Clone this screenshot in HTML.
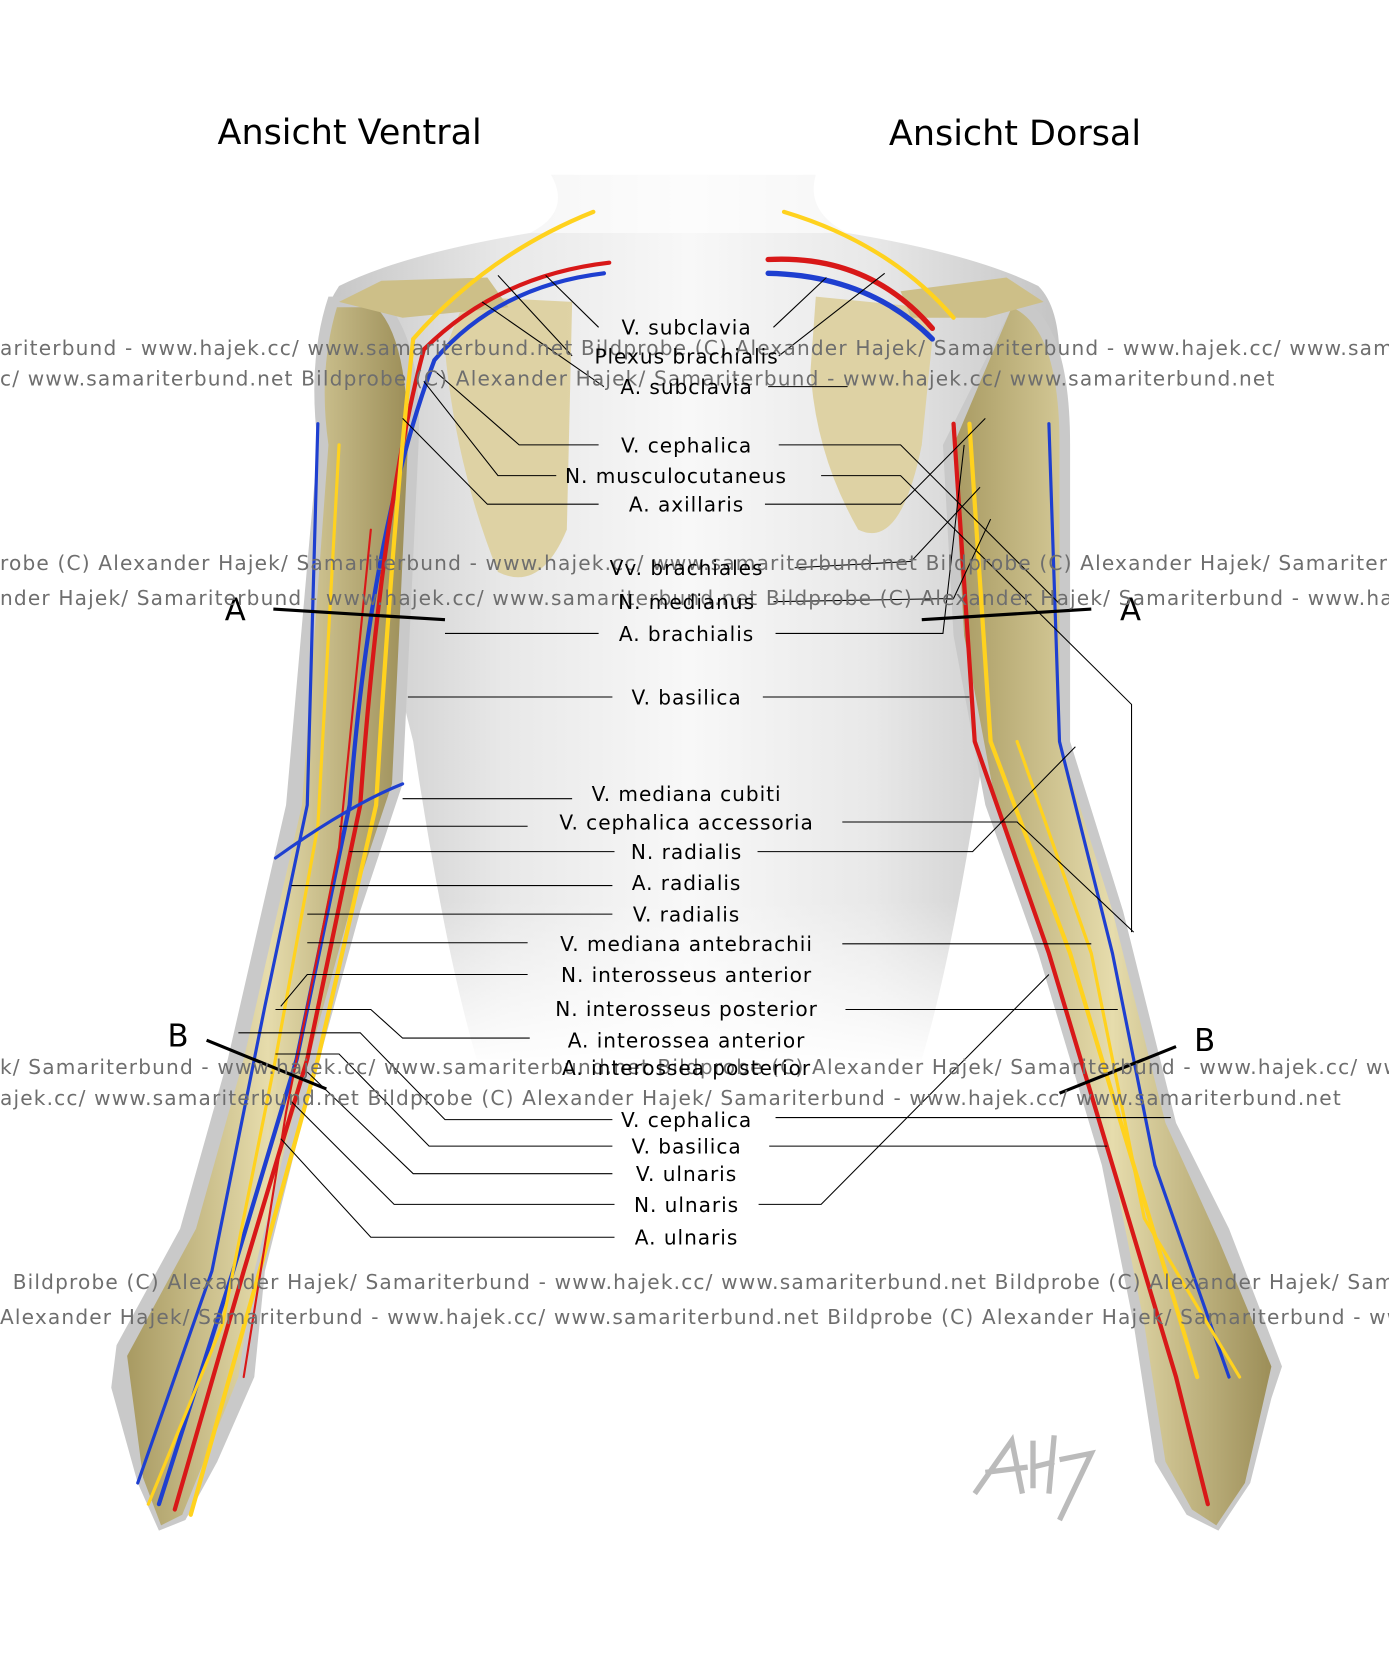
<!DOCTYPE html>
<html><head><meta charset="utf-8"><style>
html,body{margin:0;padding:0;background:#fff;width:1389px;height:1662px;overflow:hidden}
svg{display:block}
.l{font-family:"DejaVu Sans","Liberation Sans",sans-serif;font-size:19px;letter-spacing:0.9px;fill:#000;text-anchor:middle}
.w{font-family:"DejaVu Sans","Liberation Sans",sans-serif;font-size:19px;letter-spacing:1.1px;fill:#6e6e6e;white-space:pre}
.t{font-family:"DejaVu Sans","Liberation Sans",sans-serif;font-size:33px;fill:#000;text-anchor:middle}
.ln{stroke:#000;stroke-width:1;fill:none}
</style></head><body>
<svg width="1389" height="1662" viewBox="0 0 1311 1569" preserveAspectRatio="none">
<defs>
<linearGradient id="tor" x1="0" x2="1"><stop offset="0" stop-color="#c4c4c4"/><stop offset=".25" stop-color="#e8e8e8"/><stop offset=".5" stop-color="#f8f8f8"/><stop offset=".75" stop-color="#e8e8e8"/><stop offset="1" stop-color="#c4c4c4"/></linearGradient>
<linearGradient id="bone" x1="0" x2="1"><stop offset="0" stop-color="#a89a62"/><stop offset=".5" stop-color="#e6dcac"/><stop offset="1" stop-color="#9c8e58"/></linearGradient>
<linearGradient id="fade" x1="0" x2="0" y1="0" y2="1"><stop offset="0" stop-color="#fff" stop-opacity="0"/><stop offset="1" stop-color="#fff" stop-opacity="1"/></linearGradient>
</defs>
<rect width="1311" height="1569" fill="#fff"/>
<path d="M520,165 Q540,200 500,220 Q380,240 320,270 Q300,300 300,340 L390,700 Q420,900 450,1000 L870,1000 Q900,900 930,700 L1000,340 Q1000,290 980,270 Q920,240 800,220 Q760,200 770,165 Z" fill="url(#tor)"/>
<rect x="440" y="160" width="430" height="60" fill="#fff" opacity=".6"/>
<rect x="380" y="850" width="560" height="160" fill="url(#fade)"/>
<path d="M310,280 Q290,340 300,420 L270,760 L215,1000 L170,1160 L110,1270 L105,1310 L130,1400 L150,1445 L175,1435 L205,1380 L240,1300 L250,1200 L285,1060 L340,860 L380,740 L395,420 Q400,320 360,280 Z" fill="#c9c9c9"/>
<path d="M318,290 Q300,350 310,420 L285,760 L230,1000 L185,1160 L120,1280 L135,1395 L152,1440 L172,1430 L225,1300 L240,1200 L275,1060 L330,860 L370,740 L385,420 Q385,320 355,290 Z" fill="url(#bone)"/>
<path d="M960,280 Q1010,300 1010,420 L1010,700 L1060,860 L1110,1060 L1160,1160 L1210,1290 L1200,1320 L1180,1400 L1150,1445 L1120,1430 L1090,1380 L1070,1250 L1040,1100 L980,900 L930,760 L900,600 L890,420 Z" fill="#c9c9c9"/>
<path d="M955,290 Q1000,310 1000,420 L1000,700 L1050,860 L1100,1060 L1150,1170 L1200,1290 L1175,1400 L1148,1440 L1125,1425 L1100,1380 L1080,1250 L1050,1100 L990,900 L940,760 L910,600 L900,420 Z" fill="url(#bone)"/>
<path d="M440,280 L540,285 L535,500 Q510,560 470,540 Q430,440 420,330 Z" fill="#ddd1a0" opacity=".95"/>
<path d="M320,285 L360,265 L460,262 L480,290 L380,300 Z" fill="#cdbf88"/>
<path d="M770,280 L870,290 L880,320 L870,420 Q850,520 810,500 Q770,430 765,350 Z" fill="#ddd1a0" opacity=".95"/>
<path d="M850,275 L950,262 L985,285 L930,300 L860,300 Z" fill="#cdbf88"/>
<g fill="none" stroke-width="4" stroke-linecap="round">
<path d="M570,258 Q470,270 410,340 Q350,500 330,760 L280,1000 L220,1200 L150,1420" stroke="#1e3fd0"/>
<path d="M575,248 Q470,260 400,330 Q360,480 340,760 L290,1000 L230,1200 L165,1425" stroke="#d81818"/>
<path d="M560,200 Q460,240 390,320 Q370,500 355,760 L300,1000 L245,1200 L180,1430" stroke="#ffd21e"/>
<path d="M300,400 L290,760 L250,950 L200,1200 L130,1400" stroke="#1e3fd0" stroke-width="3"/>
<path d="M320,420 L300,780 L260,1000 L210,1250 L140,1420" stroke="#ffd21e" stroke-width="3"/>
<path d="M350,500 L320,800 L270,1050 L230,1300" stroke="#d81818" stroke-width="2"/>
<path d="M380,740 Q330,760 260,810" stroke="#1e3fd0" stroke-width="3"/>
<path d="M725,258 Q820,260 880,320" stroke="#1e3fd0" stroke-width="5"/>
<path d="M725,245 Q820,240 880,310" stroke="#d81818" stroke-width="5"/>
<path d="M740,200 Q840,230 900,300" stroke="#ffd21e"/>
<path d="M900,400 L920,700 L990,900 L1050,1100 L1110,1300 L1140,1420" stroke="#d81818"/>
<path d="M915,400 L935,700 L1010,900 L1070,1100 L1130,1300" stroke="#ffd21e"/>
<path d="M990,400 L1000,700 L1050,900 L1090,1100 L1160,1300" stroke="#1e3fd0" stroke-width="3"/>
<path d="M960,700 L1030,900 L1080,1150 L1170,1300" stroke="#ffd21e" stroke-width="3"/>
</g>
<g stroke="#000" stroke-width="3">
<line x1="258" y1="575" x2="420" y2="585"/><line x1="870" y1="585" x2="1030" y2="575"/>
<line x1="195" y1="982" x2="308" y2="1028"/><line x1="1000" y1="1032" x2="1110" y2="988"/>
</g>
<text class="t" x="222" y="586" style="font-size:29px">A</text><text class="t" x="1067" y="586" style="font-size:29px">A</text>
<text class="t" x="168" y="988" style="font-size:29px">B</text><text class="t" x="1137" y="992" style="font-size:29px">B</text>
<g class="ln">
<path d="M565,309 L515,260"/><path d="M730,309 L780,262"/>
<path d="M540,336 L470,260"/><path d="M735,336 L835,258"/>
<path d="M570,365 L455,285"/><path d="M725,365 L800,365"/>
<path d="M565,420 L490,420 L410,350"/><path d="M735,420 L850,420 L1000,570"/>
<path d="M525,449 L470,449 L400,360"/><path d="M775,449 L850,449 L1068,665 L1068,880"/>
<path d="M565,476 L460,476 L380,395"/><path d="M722,476 L850,476 L930,395"/>
<path d="M750,536 L860,530 L925,460"/><path d="M730,568 L900,565 L935,490"/>
<path d="M565,598 L420,598"/><path d="M732,598 L890,598 L910,420"/>
<path d="M578,658 L385,658"/><path d="M720,658 L915,658"/>
<path d="M540,754 L380,754"/><path d="M498,780 L320,780"/><path d="M795,776 L960,776 L1070,880"/>
<path d="M580,804 L330,804"/><path d="M715,804 L918,804 L1015,705"/>
<path d="M578,836 L275,836"/><path d="M578,863 L290,863"/>
<path d="M498,890 L290,890"/><path d="M795,891 L1030,891"/>
<path d="M498,920 L290,920 L265,950"/>
<path d="M798,953 L1055,953"/>
<path d="M500,980 L380,980 L350,953 L260,953"/>
<path d="M578,1057 L420,1057 L340,975 L225,975"/><path d="M732,1055 L1105,1055"/>
<path d="M578,1082 L405,1082 L320,995 L260,995"/><path d="M726,1082 L1045,1082"/>
<path d="M578,1108 L390,1108 L290,1012"/>
<path d="M580,1137 L372,1137 L275,1040"/><path d="M716,1137 L775,1137 L990,920"/>
<path d="M580,1168 L350,1168 L265,1075"/>
</g>
<g class="w">
<text x="0" y="335">ariterbund - www.hajek.cc/ www.samariterbund.net  Bildprobe (C) Alexander Hajek/ Samariterbund - www.hajek.cc/ www.samariterbund.net</text>
<text x="0" y="364">c/ www.samariterbund.net  Bildprobe (C) Alexander Hajek/ Samariterbund - www.hajek.cc/ www.samariterbund.net</text>
<text x="0" y="538">robe (C) Alexander Hajek/ Samariterbund - www.hajek.cc/ www.samariterbund.net  Bildprobe (C) Alexander Hajek/ Samariterbund</text>
<text x="0" y="571">nder Hajek/ Samariterbund - www.hajek.cc/ www.samariterbund.net  Bildprobe (C) Alexander Hajek/ Samariterbund - www.hajek.cc</text>
<text x="0" y="1014">k/ Samariterbund - www.hajek.cc/ www.samariterbund.net  Bildprobe (C) Alexander Hajek/ Samariterbund - www.hajek.cc/ www</text>
<text x="0" y="1043">ajek.cc/ www.samariterbund.net  Bildprobe (C) Alexander Hajek/ Samariterbund - www.hajek.cc/ www.samariterbund.net</text>
<text x="12" y="1217">Bildprobe (C) Alexander Hajek/ Samariterbund - www.hajek.cc/ www.samariterbund.net  Bildprobe (C) Alexander Hajek/ Samariterbund</text>
<text x="0" y="1250"> Alexander Hajek/ Samariterbund - www.hajek.cc/ www.samariterbund.net  Bildprobe (C) Alexander Hajek/ Samariterbund - www</text>
</g>
<g class="l">
<text x="648" y="316">V. subclavia</text>
<text x="648" y="343">Plexus brachialis</text>
<text x="648" y="372">A. subclavia</text>
<text x="648" y="427">V. cephalica</text>
<text x="638" y="456">N. musculocutaneus</text>
<text x="648" y="483">A. axillaris</text>
<text x="648" y="543">Vv. brachiales</text>
<text x="648" y="575">N. medianus</text>
<text x="648" y="605">A. brachialis</text>
<text x="648" y="665">V. basilica</text>
<text x="648" y="756">V. mediana cubiti</text>
<text x="648" y="783">V. cephalica accessoria</text>
<text x="648" y="811">N. radialis</text>
<text x="648" y="840">A. radialis</text>
<text x="648" y="870">V. radialis</text>
<text x="648" y="898">V. mediana antebrachii</text>
<text x="648" y="927">N. interosseus anterior</text>
<text x="648" y="959">N. interosseus posterior</text>
<text x="648" y="989">A. interossea anterior</text>
<text x="648" y="1015">A. interossea posterior</text>
<text x="648" y="1064">V. cephalica</text>
<text x="648" y="1089">V. basilica</text>
<text x="648" y="1115">V. ulnaris</text>
<text x="648" y="1144">N. ulnaris</text>
<text x="648" y="1175">A. ulnaris</text>
</g>
<text class="t" x="330" y="136">Ansicht Ventral</text>
<text class="t" x="958" y="137">Ansicht Dorsal</text>
<path d="M920,1410 L955,1360 L965,1410 M930,1390 L970,1385 M975,1360 L975,1405 M995,1355 L990,1410 M975,1385 L995,1380 M1000,1378 L1030,1372 L1000,1435" stroke="#aaa" stroke-width="5" fill="none" opacity=".8"/>
</svg>
</body></html>
